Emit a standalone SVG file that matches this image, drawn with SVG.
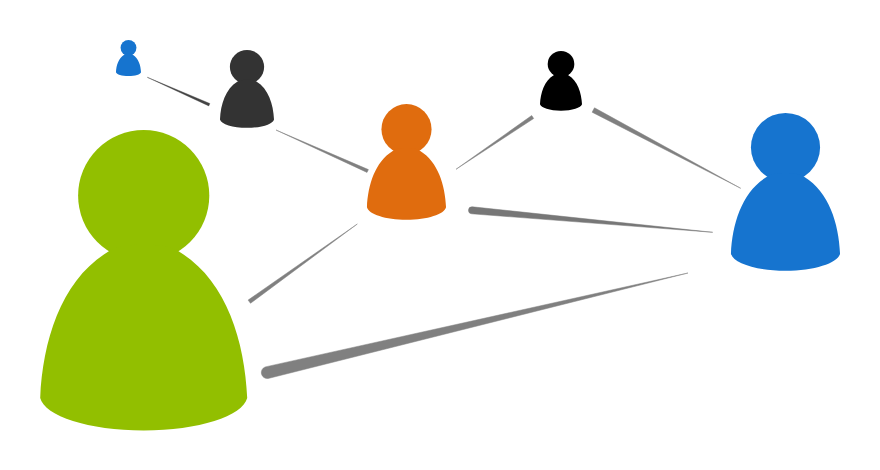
<svg xmlns="http://www.w3.org/2000/svg" width="880" height="470" viewBox="0 0 880 470">
<style>
.link{fill:#808080;stroke:#808080;stroke-width:.5;stroke-linejoin:round}
.darklink{fill:#444;stroke:#444;stroke-width:.4;stroke-linejoin:round}
.heavy{fill:#777;stroke:#777;stroke-width:.5;stroke-linejoin:round}
</style>
<defs>
<g id="person">
<circle cx="0" cy="65.6" r="65.6"/>
<path d="M-103.5 268C-101 210-82 150-36 122C-25 112 25 112 36 122C82 150 101 210 103.5 268C99 286 55 300.5 0 300.5C-55 300.5-99 286-103.5 268Z"/>
</g>
</defs>
<rect width="880" height="470" fill="#fff"/>
<g id="connectors">
<path class="darklink" d="M147.3 77.3L209.8 103.5L208.8 105.9Z"/>
<path class="link" d="M276 130L368.4 169.6L367 172.4Z"/>
<path class="link" d="M357.3 224L250.5 303.3L248.1 300.1Z"/>
<path class="link" d="M456 169.3L531.7 115.5L533.7 118.5Z"/>
<path class="link" d="M740.7 188.3L592.1 112.2L594.5 107.8Z"/>
<path class="heavy" d="M472.3 206.8L712.7 232.3L471.7 213.8A3.5 3.5 0 0 1 472.3 206.8Z"/>
<path class="link" d="M265.3 366.9L688 273L268.1 378.5A6 6 0 0 1 265.3 366.9Z"/>
</g>
<g id="person-green" fill="#92bf00"><use href="#person" transform="translate(143.7 130)"/></g>
<g id="person-orange" fill="#e06c0e"><use href="#person" transform="translate(406.5 104) scale(.382 .385)"/></g>
<g id="person-blue-large" fill="#1674cf"><use href="#person" transform="translate(785.5 113) scale(.527 .525)"/></g>
<g id="person-dark" fill="#333"><use href="#person" transform="translate(247 50) scale(.261 .259)"/></g>
<g id="person-black" fill="#000"><use href="#person" transform="translate(561 51) scale(.203 .199)"/></g>
<g id="person-blue-small" fill="#1674cf"><use href="#person" transform="translate(128.5 40) scale(.121 .12)"/></g>
</svg>
